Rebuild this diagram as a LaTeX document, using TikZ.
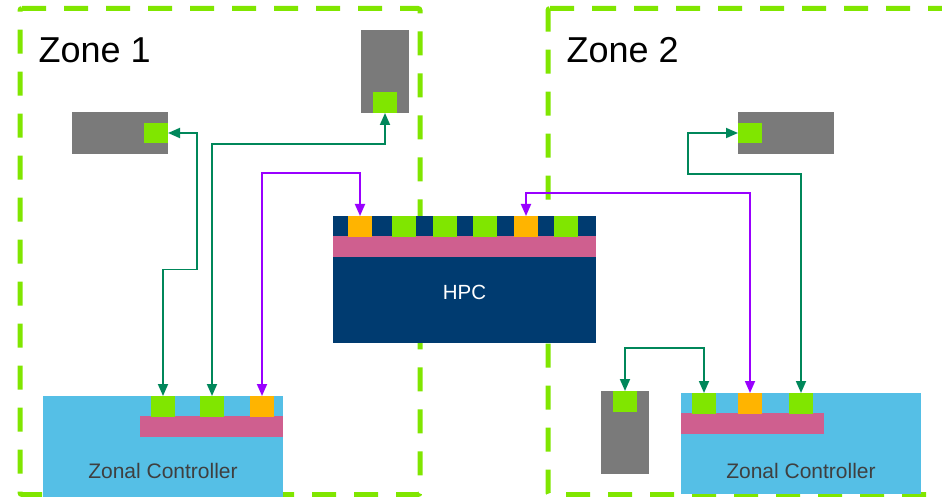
\documentclass[tikz,border=0pt]{standalone}
\usepackage{fontspec}
\setmainfont{Liberation Sans}
\usetikzlibrary{arrows.meta,positioning}
\definecolor{zoneline}{HTML}{80E600}
\definecolor{devgray}{HTML}{7A7A7A}
\definecolor{hpcnavy}{HTML}{003B70}
\definecolor{pinkband}{HTML}{CF5F8F}
\definecolor{skyblue}{HTML}{55BFE6}
\definecolor{amber}{HTML}{FFB400}
\definecolor{cangreen}{HTML}{00875A}
\definecolor{ethpurple}{HTML}{9900FF}
\definecolor{textgray}{HTML}{3F3F3F}

\begin{document}
\begin{tikzpicture}[x=1pt, y=-1pt,
    zone/.style={draw=zoneline, line width=5pt, dash pattern=on 24pt off 18pt, rounded corners=2pt},
    blk/.style={rectangle, inner sep=0pt, outer sep=0pt, anchor=north west},
    dev/.style={blk, fill=devgray},
    canport/.style={blk, fill=zoneline, minimum width=24pt, minimum height=20.5pt},
    ethport/.style={canport, fill=amber},
    band/.style={blk, fill=pinkband, minimum width=143pt, minimum height=21pt},
    zc/.style={blk, fill=skyblue, minimum width=240pt},
    canlink/.style={{Triangle[width=10pt,length=12pt]}-{Triangle[width=10pt,length=12pt]}, line width=1.8pt, cangreen},
    ethlink/.style={canlink, ethpurple},
    zonelabel/.style={font=\fontsize{36}{40}\selectfont, anchor=base west},
    zclabel/.style={font=\fontsize{21}{24}\selectfont, text=textgray}
  ]
  \useasboundingbox (0,0) rectangle (942,497);
  \clip (0,0) rectangle (942,497);

  % zones
  \draw[zone] (20,8.5) -- (420,8.5) -- (420,494.5) -- (20,494.5) -- cycle;
  \draw[zone] (548,8.5) -- (1000,8.5) -- (1000,494.5) -- (548,494.5) -- cycle;
  \node[zonelabel] (zone1) at (35,63) {Zone 1};
  \node[zonelabel] (zone2) at (563,63) {Zone 2};

  % end devices
  \node[dev, minimum width=96pt, minimum height=42pt] (devA) at (72,112) {};
  \node[canport, anchor=east] (devAp) at (devA.east) {};
  \node[dev, minimum width=48pt, minimum height=83pt] (devB) at (361,30) {};
  \node[canport, anchor=south] (devBp) at (devB.south) {};
  \node[dev, minimum width=96pt, minimum height=42pt] (devC) at (738,112) {};
  \node[canport, anchor=west] (devCp) at (devC.west) {};
  \node[dev, minimum width=48pt, minimum height=83pt] (devD) at (601,391) {};
  \node[canport, anchor=north] (devDp) at (devD.north) {};

  % HPC
  \node[blk, fill=hpcnavy, minimum width=263pt, minimum height=127pt] (hpc) at (333,216) {};
  \node[band, minimum width=263pt] (hpcband) at (333,236) {};
  \foreach \x/\n/\s in {348/1/ethport, 392/2/canport, 433/3/canport,
                        473/4/canport, 514/5/ethport, 554/6/canport}
    \node[\s] (hpcP\n) at (\x,216) {};
  \node[text=white, font=\fontsize{20.5}{24}\selectfont] (hpctext) at (464.5,292) {HPC};

  % zonal controllers
  \node[zc, minimum height=104pt] (zc1) at (43,396) {};
  \node[band] (zc1band) at (140,416) {};
  \node[canport] (zc1p1) at (151,396) {};
  \node[canport] (zc1p2) at (200,396) {};
  \node[ethport] (zc1p3) at (250,396) {};
  \node[zclabel] (zc1text) at (163,471) {Zonal Controller};

  \node[zc, minimum height=101pt] (zc2) at (681,393) {};
  \node[band] (zc2band) at (681,413) {};
  \node[canport] (zc2p1) at (692,393) {};
  \node[ethport] (zc2p2) at (738,393) {};
  \node[canport] (zc2p3) at (789,393) {};
  \node[zclabel] (zc2text) at (801,471) {Zonal Controller};

  % links
  \draw[canlink] (devAp.east) -| ++(29,136.5) -| (zc1p1.north);
  \draw[canlink] (devBp.south) -- ++(0,31.3) -| (zc1p2.north);
  \draw[ethlink] (hpcP1.north) -- ++(0,-43) -| (zc1p3.north);
  \draw[ethlink] (hpcP5.north) -- ++(0,-22.7) -| (zc2p2.north);
  \draw[canlink] (devCp.west) -- ++(-49.7,0) -- ++(0,41.2) -| (zc2p3.north);
  \draw[canlink] (devDp.north) -- ++(0,-42.7) -| (zc2p1.north);
\end{tikzpicture}
\end{document}
